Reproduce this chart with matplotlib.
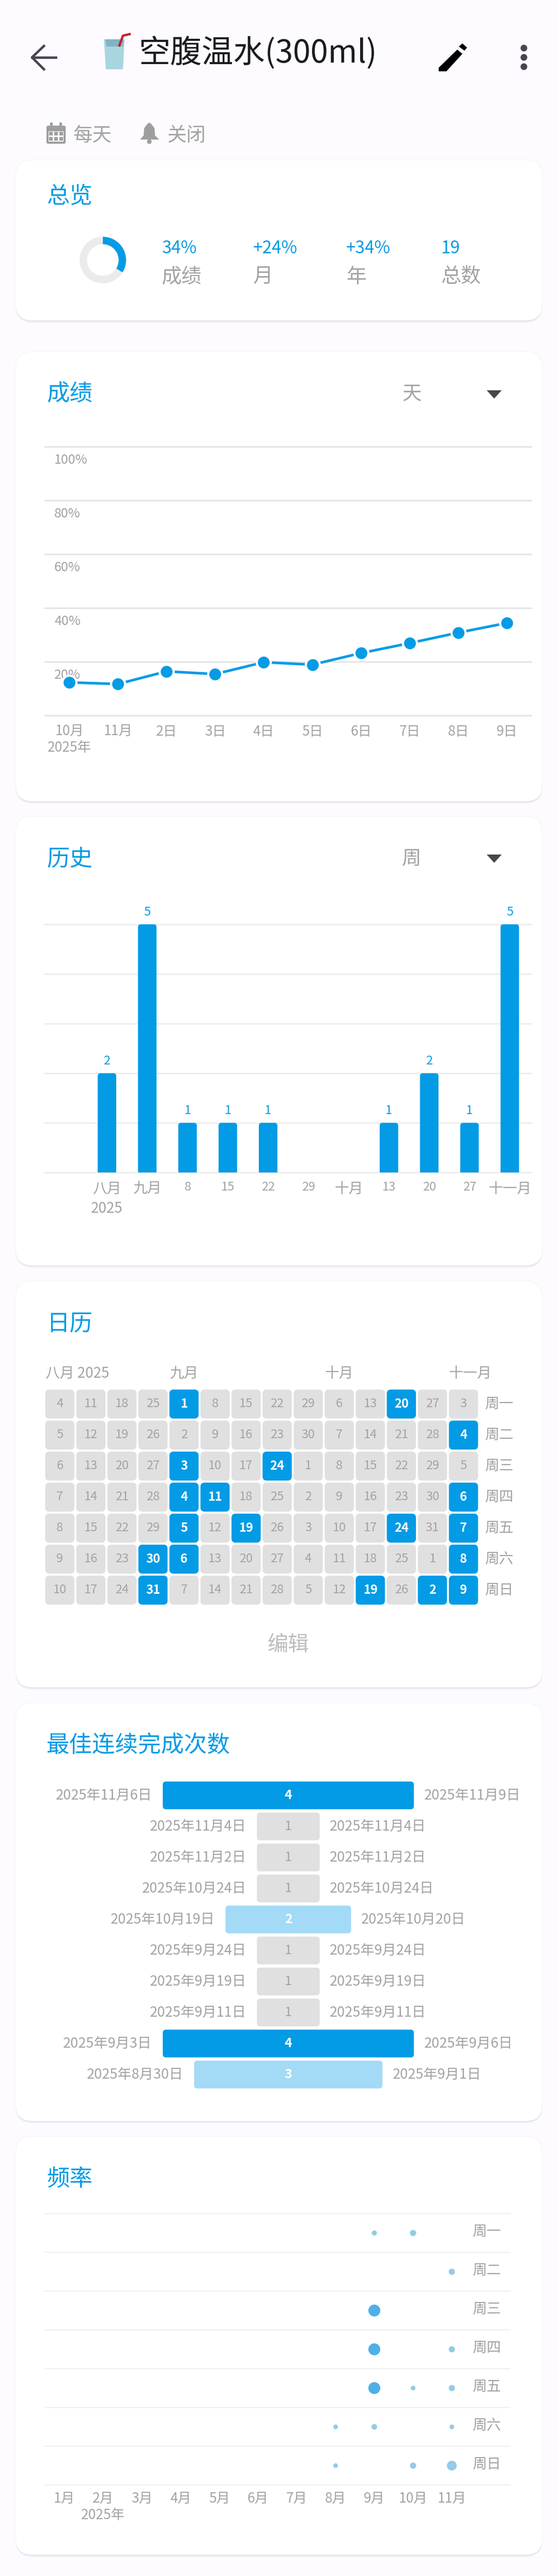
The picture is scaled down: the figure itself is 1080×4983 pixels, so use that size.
import matplotlib
matplotlib.use('Agg')
import matplotlib.pyplot as plt
from matplotlib.patches import FancyBboxPatch, Polygon, Circle, Rectangle

plt.rcParams['font.family'] = ['Noto Sans CJK SC', 'DejaVu Sans']

W, H = 1080, 4983
BLUE = '#039BE5'
LIGHT_BLUE = '#A3DAF6'
GRAY_TEXT = '#A3A3A3'
CELL_GRAY = '#E0E0E0'
BACKGROUND = '#FDFBFF'

# overview
overview_score = 34
overview_values = ['34%', '+24%', '+34%', '19']
overview_labels = ['成绩', '月', '年', '总数']

# score line
score_labels = ['10月\n2025年', '11月', '2日', '3日', '4日', '5日', '6日', '7日', '8日', '9日']
score_values = [12.3, 11.7, 16.4, 15.4, 19.8, 18.9, 23.2, 26.9, 30.8, 34.4]
score_ticks = [0, 20, 40, 60, 80, 100]

# history bars
history_labels = ['八月\n2025', '九月', '8', '15', '22', '29', '十月', '13', '20', '27', '十一月']
history_values = [2, 5, 1, 1, 1, 0, 0, 1, 2, 1, 5]

# calendar, one list per week column
calendar_days = [
    [4, 5, 6, 7, 8, 9, 10],
    [11, 12, 13, 14, 15, 16, 17],
    [18, 19, 20, 21, 22, 23, 24],
    [25, 26, 27, 28, 29, 30, 31],
    [1, 2, 3, 4, 5, 6, 7],
    [8, 9, 10, 11, 12, 13, 14],
    [15, 16, 17, 18, 19, 20, 21],
    [22, 23, 24, 25, 26, 27, 28],
    [29, 30, 1, 2, 3, 4, 5],
    [6, 7, 8, 9, 10, 11, 12],
    [13, 14, 15, 16, 17, 18, 19],
    [20, 21, 22, 23, 24, 25, 26],
    [27, 28, 29, 30, 31, 1, 2],
    [3, 4, 5, 6, 7, 8, 9],
]
calendar_done = {3: [5, 6], 4: [0, 2, 3, 4, 5], 5: [3], 6: [4], 7: [2], 10: [6], 11: [0, 4], 12: [6], 13: [1, 3, 4, 5, 6]}
calendar_months = {0: '八月 2025', 4: '九月', 9: '十月', 13: '十一月'}
weekdays = ['周一', '周二', '周三', '周四', '周五', '周六', '周日']

# best streaks
streak_starts = ['2025年11月6日', '2025年11月4日', '2025年11月2日', '2025年10月24日', '2025年10月19日',
                 '2025年9月24日', '2025年9月19日', '2025年9月11日', '2025年9月3日', '2025年8月30日']
streak_ends = ['2025年11月9日', '2025年11月4日', '2025年11月2日', '2025年10月24日', '2025年10月20日',
               '2025年9月24日', '2025年9月19日', '2025年9月11日', '2025年9月6日', '2025年9月1日']
streak_lengths = [4, 1, 1, 1, 2, 1, 1, 1, 4, 3]

# frequency dots
freq_months = ['1月', '2月\n2025年', '3月', '4月', '5月', '6月', '7月', '8月', '9月', '10月', '11月']
freq_month = [9, 10, 11, 9, 9, 11, 9, 10, 11, 8, 9, 11, 8, 10, 11]
freq_day = [0, 0, 1, 2, 3, 3, 4, 4, 4, 5, 5, 5, 6, 6, 6]
freq_size = [10, 12, 12, 23, 23, 12, 23, 9, 12, 9, 11, 9, 9, 12, 19]


def px_axes(left, top, right, bottom):
    ax = fig.add_axes([left / W, 1 - bottom / H, (right - left) / W, (bottom - top) / H])
    ax.patch.set_visible(False)
    for spine in ax.spines.values():
        spine.set_visible(False)
    return ax


def card(top, bottom, title, title_y=82):
    for off, alpha in [(5, 0.02), (3, 0.04), (1.5, 0.06)]:
        bg.add_patch(FancyBboxPatch((30, top + off), 1020, bottom - top, boxstyle='round,pad=0,rounding_size=33',
                                    fc='black', ec='none', alpha=alpha))
    bg.add_patch(FancyBboxPatch((30, top), 1020, bottom - top, boxstyle='round,pad=0,rounding_size=33',
                                fc='white', ec='#F4F2F6', lw=0.7))
    bg.text(90, top + title_y, title, color=BLUE, fontsize=32, va='center', fontweight='medium')


def dropdown(x, y, label):
    bg.text(x, y, label, color=GRAY_TEXT, fontsize=27, va='center', ha='center')
    bg.add_patch(Polygon([(942, y - 8), (971, y - 8), (956.5, y + 8)], fc='#49454F', ec='none'))


fig = plt.figure(figsize=(W / 100, H / 100), dpi=100, facecolor=BACKGROUND)
bg = fig.add_axes([0, 0, 1, 1])
bg.set_xlim(0, W)
bg.set_ylim(H, 0)
bg.axis('off')

# top bar
bg.plot([108, 62], [111, 111], color='#49454F', lw=3.4)
bg.plot([85, 62, 85], [89, 111, 134], color='#49454F', lw=3.4)
bg.add_patch(Polygon([(201, 76), (241, 76), (238, 134), (205, 134)], fc='#A8D5DF', ec='none'))
bg.add_patch(Polygon([(204, 76), (240, 76), (238, 90), (206, 90)], fc='#7FB5C4', ec='none'))
bg.plot([231, 238, 251], [88, 69, 66], color='#C8202F', lw=3.2)
bg.text(268, 103, '空腹温水(300ml)', color='#1C1B1F', fontsize=44, va='center', fontweight='medium')
bg.add_patch(Polygon([(849, 138), (849, 131), (885, 96), (895, 104), (864, 138)], fc='black', ec='none'))
bg.add_patch(Polygon([(888, 90), (895, 84), (904, 92), (899, 98)], fc='black', ec='none'))
for y in [93, 111, 129]:
    bg.add_patch(Circle((1014, y), 6.5, fc='#49454F', ec='none'))

# schedule row
bg.add_patch(FancyBboxPatch((90, 243), 37, 35, boxstyle='round,pad=0,rounding_size=3', fc='#9E9E9E', ec='none'))
bg.add_patch(Rectangle((94, 254), 29, 20, fc='white', ec='none'))
for x in [94, 104, 114]:
    for y in [255, 265]:
        bg.add_patch(Rectangle((x + 1, y), 7, 7, fc='#9E9E9E', ec='none'))
bg.add_patch(Rectangle((97, 237), 5, 8, fc='#9E9E9E', ec='none'))
bg.add_patch(Rectangle((115, 237), 5, 8, fc='#9E9E9E', ec='none'))
bg.text(142, 262, '每天', color=GRAY_TEXT, fontsize=27, va='center')
bg.add_patch(Polygon([(271, 270), (278, 262), (279, 248), (285, 240), (289, 237), (293, 240), (299, 248), (300, 262), (308, 270)],
                     fc='#9E9E9E', ec='none'))
bg.add_patch(Circle((289, 274), 4.5, fc='#9E9E9E', ec='none'))
bg.text(323, 262, '关闭', color=GRAY_TEXT, fontsize=27, va='center')

# overview
card(309, 620, '总览', title_y=71)
ax = px_axes(154, 458, 244, 548)
ax.pie([overview_score, 100 - overview_score], colors=[BLUE, '#EBEBEB'], startangle=90, counterclock=False,
       radius=1, wedgeprops={'width': 0.32})
ax.set_xlim(-1, 1)
ax.set_ylim(-1, 1)
for x, value, label in zip([313, 490, 670, 853], overview_values, overview_labels):
    bg.text(x, 481, value, color=BLUE, fontsize=24, va='center', fontweight='medium')
    bg.text(x, 536, label, color=GRAY_TEXT, fontsize=28, va='center')

# score line
card(680, 1550, '成绩')
dropdown(797, 763, '天')
ax = px_axes(87, 864, 1028, 1384)
ax.set_xlim(-0.5, 9.5)
ax.set_ylim(0, 100)
ax.set_xticks(range(len(score_labels)))
ax.set_xticklabels(score_labels, fontsize=19, color=GRAY_TEXT, linespacing=1.2)
ax.set_yticks(score_ticks)
ax.set_yticklabels([])
ax.tick_params(length=0, pad=13)
ax.grid(axis='y', color='#E3E3E3', lw=2, clip_on=False)
ax.set_axisbelow(True)
for v in score_ticks[1:]:
    ax.annotate(f'{v}%', (0, v), xycoords=('axes fraction', 'data'), xytext=(13, -19), textcoords='offset points',
                color=GRAY_TEXT, fontsize=18, va='center', zorder=1)
ax.plot(range(len(score_values)), score_values, color=BLUE, lw=3.6, marker='o', ms=19.5, mec='white', mew=3, zorder=3, clip_on=False)

# history bars
card(1579, 2448, '历史')
dropdown(797, 1661, '周')
ax = px_axes(87, 1788, 1028, 2268)
ax.set_xlim(-1.54, 10.53)
ax.set_ylim(0, 5)
ax.set_xticks(range(len(history_labels)))
ax.set_xticklabels(history_labels, fontsize=20, color=GRAY_TEXT, linespacing=1.35)
for tick in ax.get_xticklabels():
    if tick.get_text().isdigit():
        tick.set_fontsize(17)
ax.set_yticks(range(6))
ax.set_yticklabels([])
ax.tick_params(length=0, pad=12)
ax.grid(axis='y', color='#EBEBEB', lw=1.8, clip_on=False)
ax.set_axisbelow(True)
for i, v in enumerate(history_values):
    if v == 0:
        continue
    ax.add_patch(FancyBboxPatch((i - 0.23, -0.3), 0.46, v + 0.3, boxstyle='round,pad=0,rounding_size=0.07',
                                mutation_aspect=78 / 96, fc=BLUE, ec='none', zorder=3, clip_on=True))
    ax.annotate(str(v), (i, v), xytext=(0, 17), textcoords='offset points', color=BLUE, fontsize=17, ha='center', va='center', fontweight='medium')

# calendar
card(2478, 3264, '日历')
ax = px_axes(85.7, 2686, 927.1, 3106)
ax.set_xlim(-0.5, 13.5)
ax.set_ylim(6.5, -0.5)
ax.axis('off')
for c, days in enumerate(calendar_days):
    for r, day in enumerate(days):
        done = r in calendar_done.get(c, [])
        ax.add_patch(FancyBboxPatch((c - 0.47, r - 0.467), 0.94, 0.934, boxstyle='round,pad=0,rounding_size=0.13',
                                    fc=BLUE if done else CELL_GRAY, ec='none'))
        ax.text(c, r, str(day), color='white' if done else GRAY_TEXT, fontsize=17, ha='center', va='center',
                fontweight='bold' if done else 'normal')
for c, label in calendar_months.items():
    ax.text(c - 0.47, -0.98, label, color=GRAY_TEXT, fontsize=20, va='center')
for r, label in enumerate(weekdays):
    ax.text(13.68, r, label, color=GRAY_TEXT, fontsize=20, va='center')
bg.text(558, 3181, '编辑', color='#BDBDBD', fontsize=29, ha='center', va='center', fontweight='medium')

# best streaks
card(3294, 4103, '最佳连续完成次数')
ax = px_axes(87, 3443, 1029, 4043)
ax.set_xlim(-471 / 121.5, 471 / 121.5)
ax.set_ylim(9.5, -0.5)
ax.axis('off')
max_len = max(streak_lengths)
for i, (start, end, n) in enumerate(zip(streak_starts, streak_ends, streak_lengths)):
    if n == max_len:
        fc, tc = BLUE, 'white'
    elif n > 1:
        fc, tc = LIGHT_BLUE, 'white'
    else:
        fc, tc = CELL_GRAY, GRAY_TEXT
    ax.add_patch(FancyBboxPatch((-n / 2, i - 0.447), n, 0.894, boxstyle='round,pad=0,rounding_size=0.05',
                                mutation_aspect=121.5 / 60, fc=fc, ec='none'))
    ax.text(0, i, str(n), color=tc, fontsize=18, ha='center', va='center', fontweight='bold' if n > 1 else 'normal')
    ax.annotate(start, (-n / 2, i), xytext=(-15, 0), textcoords='offset points', color=GRAY_TEXT, fontsize=19.5, ha='right', va='center')
    ax.annotate(end, (n / 2, i), xytext=(14, 0), textcoords='offset points', color=GRAY_TEXT, fontsize=19.5, ha='left', va='center')

# frequency dots
card(4133, 4942, '频率')
ax = px_axes(87, 4282, 987, 4807)
ax.set_xlim(0.5, 12.5)
ax.set_ylim(6.5, -0.5)
ax.set_xticks(range(1, len(freq_months) + 1))
ax.set_xticklabels(freq_months, fontsize=19, color=GRAY_TEXT, linespacing=1.2)
ax.set_yticks([r - 0.5 for r in range(8)])
ax.set_yticklabels([])
ax.tick_params(length=0, pad=10)
ax.grid(axis='y', color='#F0F0F0', lw=1.6, clip_on=False)
ax.set_axisbelow(True)
ax.scatter(freq_month, freq_day, s=[(d * 0.72) ** 2 for d in freq_size], linewidths=0, zorder=3,
           c=['#4DB0E6' if d > 20 else '#94CBE5' for d in freq_size])
for r, label in enumerate(weekdays):
    ax.text(11.53, r - 0.03, label, color=GRAY_TEXT, fontsize=20, va='center')

fig.savefig('out.png', dpi=100, facecolor=BACKGROUND)
